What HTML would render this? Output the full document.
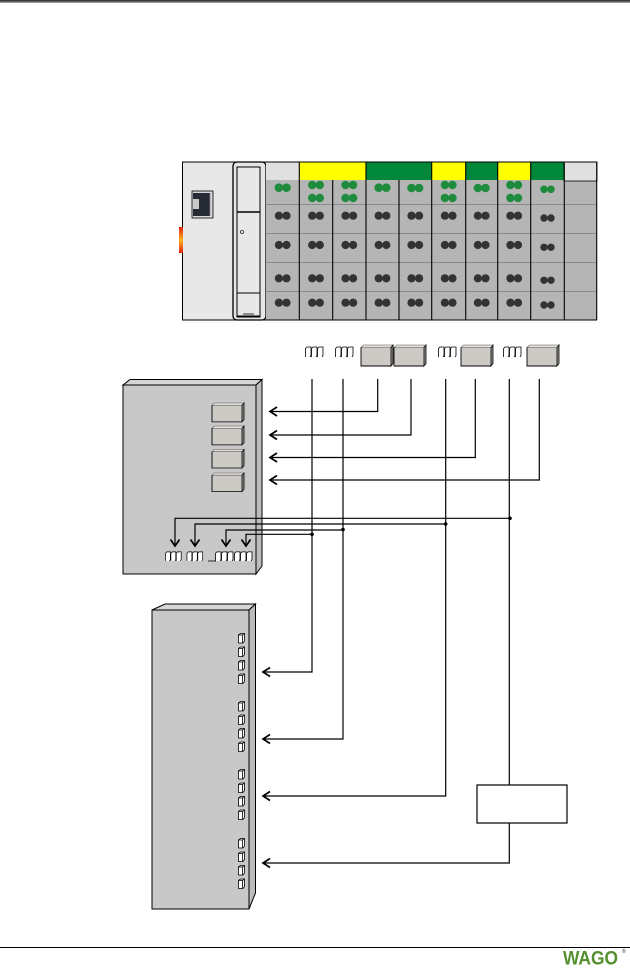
<!DOCTYPE html>
<html><head><meta charset="utf-8">
<style>html,body{margin:0;padding:0;background:#fff}svg{display:block}</style>
</head><body>
<svg width="630" height="971" viewBox="0 0 630 971" xmlns="http://www.w3.org/2000/svg">
<defs>
<linearGradient id="red" x1="0" y1="0" x2="0" y2="1">
<stop offset="0" stop-color="#e01e10"/><stop offset="0.5" stop-color="#ffb41e"/><stop offset="1" stop-color="#e01e10"/>
</linearGradient>
<g id="bb">
 <rect x="0" y="2.5" width="30" height="18.5" fill="#cdcac6"/>
 <polygon points="0,2.5 2.5,0 32,0 30,2.5" fill="#e2e0dd" stroke="#555" stroke-width="0.6"/>
 <polygon points="30,2.5 32,0 32,18.5 30,21" fill="#9a9894" stroke="#000" stroke-width="0.8"/>
 <path d="M0,2.5 V21 H30" fill="none" stroke="#000" stroke-width="0.9"/>
</g>
<g id="sc" fill="#fff" stroke="#000" stroke-width="0.8">
 <path d="M0.5,11 V2.5 L2,1 H6 V9.5 L5,11"/>
 <path d="M6.5,11 V2.5 L8,1 H12 V9.5 L11,11"/>
 <path d="M12.5,11 V2.5 L14,1 H18 V9.5 L17,11"/>
</g>
<g id="lc" fill="#fff" stroke="#000" stroke-width="0.8">
 <path d="M0.5,10 V2 L2.5,0.5 H6.5 V8 L5,10 Z"/>
 <path d="M0.5,2 H4.5 L6.5,0.5 M4.5,2 V10"/>
</g>
</defs>

<!-- top header line -->
<rect x="0" y="0" width="630" height="2.5" fill="#333"/>
<line x1="0" y1="1.2" x2="630" y2="1.2" stroke="#999" stroke-width="0.5"/>

<!-- device left face -->
<rect x="182.5" y="162" width="84" height="158" fill="#e8e8e8" stroke="#000" stroke-width="1"/>
<rect x="179" y="227" width="4" height="26" fill="url(#red)"/>
<!-- RJ45 -->
<rect x="192" y="191" width="21" height="27" fill="#d8d8d8" stroke="#000" stroke-width="0.8"/>
<rect x="193" y="193" width="17" height="23" fill="#262a35"/>
<rect x="192.5" y="199" width="6.5" height="10" fill="#c8c8c8"/>
<line x1="210" y1="193" x2="210" y2="216" stroke="#888" stroke-width="0.8"/>
<!-- coupler -->
<rect x="233" y="162" width="33" height="158" rx="4" fill="#e6e6e6" stroke="#000" stroke-width="1.3"/>
<rect x="237" y="167" width="23" height="150" fill="#e8e8e8" stroke="#000" stroke-width="1"/>
<line x1="237" y1="212" x2="260" y2="212" stroke="#000" stroke-width="1.6"/>
<rect x="237" y="293" width="23" height="23" fill="none" stroke="#000" stroke-width="1"/>
<line x1="243" y1="314" x2="254" y2="314" stroke="#000" stroke-width="0.8"/>
<circle cx="242" cy="232" r="1.6" fill="none" stroke="#333" stroke-width="0.8"/>

<!-- modules -->
<rect x="266" y="180" width="331" height="140" fill="#b5b5b5"/>
<rect x="266" y="162" width="33" height="18" fill="#e0e0e0"/>
<rect x="299" y="162" width="67" height="18" fill="#ffff00"/>
<rect x="366" y="162" width="66" height="18" fill="#00873a"/>
<rect x="432" y="162" width="34" height="18" fill="#ffff00"/>
<rect x="466" y="162" width="32" height="18" fill="#00873a"/>
<rect x="498" y="162" width="33" height="18" fill="#ffff00"/>
<rect x="531" y="162" width="33" height="18" fill="#00873a"/>
<rect x="564" y="162" width="33" height="19" fill="#e0e0e0" stroke="#000" stroke-width="0.8"/>
<g stroke="#8a8a8a" stroke-width="1">
<line x1="266" y1="204.5" x2="597" y2="204.5"/>
<line x1="266" y1="233.5" x2="597" y2="233.5"/>
<line x1="266" y1="262.5" x2="597" y2="262.5"/>
<line x1="266" y1="291.5" x2="597" y2="291.5"/>
</g>
<g stroke="#000" stroke-width="1.1">
<line x1="299.3" y1="162" x2="299.3" y2="320"/>
<line x1="332.7" y1="180" x2="332.7" y2="320"/>
<line x1="366" y1="162" x2="366" y2="320"/>
<line x1="399" y1="180" x2="399" y2="320"/>
<line x1="431.7" y1="162" x2="431.7" y2="320"/>
<line x1="465.7" y1="162" x2="465.7" y2="320"/>
<line x1="497.7" y1="162" x2="497.7" y2="320"/>
<line x1="530.7" y1="162" x2="530.7" y2="320"/>
<line x1="564.3" y1="162" x2="564.3" y2="320"/>
<line x1="596.7" y1="162" x2="596.7" y2="320"/>
<line x1="266" y1="162" x2="597" y2="162"/>
<line x1="182.5" y1="320" x2="597" y2="320"/>
</g>

<!-- green dots -->
<g fill="#1e8c3c">
<circle cx="278.9" cy="187.7" r="4.3"/><circle cx="286.5" cy="187.7" r="4.3"/>
<circle cx="378.7" cy="187.7" r="4.3"/><circle cx="386.3" cy="187.7" r="4.3"/>
<circle cx="411.5" cy="188" r="4.3"/><circle cx="419.1" cy="188" r="4.3"/>
<circle cx="477.9" cy="188" r="4.3"/><circle cx="485.5" cy="188" r="4.3"/>
<circle cx="544" cy="189.3" r="3.8"/><circle cx="551" cy="189.3" r="3.8"/>
<circle cx="312.2" cy="185" r="4.2"/><circle cx="319.8" cy="185" r="4.2"/>
<circle cx="312.2" cy="198" r="4.2"/><circle cx="319.8" cy="198" r="4.2"/>
<circle cx="345.5" cy="185" r="4.2"/><circle cx="353.1" cy="185" r="4.2"/>
<circle cx="345.5" cy="198" r="4.2"/><circle cx="353.1" cy="198" r="4.2"/>
<circle cx="444.9" cy="185" r="4.2"/><circle cx="452.5" cy="185" r="4.2"/>
<circle cx="444.9" cy="198" r="4.2"/><circle cx="452.5" cy="198" r="4.2"/>
<circle cx="510.4" cy="185" r="4.2"/><circle cx="518" cy="185" r="4.2"/>
<circle cx="510.4" cy="198" r="4.2"/><circle cx="518" cy="198" r="4.2"/>
</g>
<!-- dark dots -->
<g fill="#333">
<g id="dcol">
<circle cx="278.9" cy="215.7" r="4.1"/><circle cx="286.5" cy="215.7" r="4.1"/>
<circle cx="278.9" cy="245" r="4.1"/><circle cx="286.5" cy="245" r="4.1"/>
<circle cx="278.9" cy="278.3" r="4.1"/><circle cx="286.5" cy="278.3" r="4.1"/>
<circle cx="278.9" cy="302.7" r="4.1"/><circle cx="286.5" cy="302.7" r="4.1"/>
</g>
<use href="#dcol" transform="translate(33.3,0)"/>
<use href="#dcol" transform="translate(66.6,0)"/>
<use href="#dcol" transform="translate(99.8,0)"/>
<use href="#dcol" transform="translate(132.6,0)"/>
<use href="#dcol" transform="translate(166,0)"/>
<use href="#dcol" transform="translate(199,0)"/>
<use href="#dcol" transform="translate(231.5,0)"/>
<circle cx="544" cy="218" r="3.7"/><circle cx="551" cy="218" r="3.7"/>
<circle cx="544" cy="247.3" r="3.7"/><circle cx="551" cy="247.3" r="3.7"/>
<circle cx="544" cy="280.3" r="3.7"/><circle cx="551" cy="280.3" r="3.7"/>
<circle cx="544" cy="305" r="3.7"/><circle cx="551" cy="305" r="3.7"/>
</g>

<!-- terminal row -->
<use href="#sc" transform="translate(305,346)"/>
<use href="#sc" transform="translate(335,346)"/>
<use href="#bb" transform="translate(361,345)"/>
<use href="#bb" transform="translate(394,345)"/>
<use href="#sc" transform="translate(438,346)"/>
<use href="#bb" transform="translate(461,345)"/>
<use href="#sc" transform="translate(503,346)"/>
<use href="#bb" transform="translate(527,345)"/>

<!-- left box -->
<polygon points="123,385 130,379.5 262,379.5 256,385" fill="#d6d6d6" stroke="#000" stroke-width="1"/>
<polygon points="256,385 262,379.5 262,566 256,574" fill="#bcbcbc" stroke="#000" stroke-width="1"/>
<rect x="123" y="385" width="133" height="189" fill="#c8c8c8" stroke="#000" stroke-width="1"/>
<use href="#bb" transform="translate(212,403) scale(1,0.9)"/>
<use href="#bb" transform="translate(212,426) scale(1,0.9)"/>
<use href="#bb" transform="translate(212,449.5) scale(1,0.88)"/>
<use href="#bb" transform="translate(212,473) scale(1,0.88)"/>
<use href="#sc" transform="translate(165,551) scale(0.9,0.9)"/>
<use href="#sc" transform="translate(186.5,551) scale(0.9,0.9)"/>
<use href="#sc" transform="translate(215,551) scale(1,0.9)"/>
<use href="#sc" transform="translate(234,551) scale(1,0.9)"/>
<line x1="208" y1="561" x2="216" y2="561" stroke="#000" stroke-width="0.8"/>

<!-- lower box -->
<polygon points="152,610 165,604 255.5,604 249,610" fill="#d6d6d6" stroke="#000" stroke-width="1"/>
<polygon points="249,610 255.5,604 255.5,893 249,909" fill="#bcbcbc" stroke="#000" stroke-width="1"/>
<rect x="152" y="610" width="97" height="299" fill="#c8c8c8" stroke="#000" stroke-width="1"/>
<g>
<use href="#lc" transform="translate(238,633)"/>
<use href="#lc" transform="translate(238,646.5)"/>
<use href="#lc" transform="translate(238,660)"/>
<use href="#lc" transform="translate(238,673.5)"/>
<use href="#lc" transform="translate(238,701)"/>
<use href="#lc" transform="translate(238,714.5)"/>
<use href="#lc" transform="translate(238,728)"/>
<use href="#lc" transform="translate(238,741.5)"/>
<use href="#lc" transform="translate(238,769)"/>
<use href="#lc" transform="translate(238,782.5)"/>
<use href="#lc" transform="translate(238,796)"/>
<use href="#lc" transform="translate(238,809.5)"/>
<use href="#lc" transform="translate(238,838)"/>
<use href="#lc" transform="translate(238,851.5)"/>
<use href="#lc" transform="translate(238,865)"/>
<use href="#lc" transform="translate(238,878.5)"/>
</g>

<!-- empty box -->
<rect x="477" y="785" width="90" height="38" fill="#fff" stroke="#000" stroke-width="1.2"/>

<!-- connector lines -->
<g fill="none" stroke="#000" stroke-width="1.2">
<path d="M312,379 V672 H264"/>
<path d="M343,379 V739 H264"/>
<path d="M377.7,379 V411.5 H271"/>
<path d="M411,379 V435 H271"/>
<path d="M445.7,379 V796 H264"/>
<path d="M475.3,379 V457.5 H271"/>
<path d="M509.3,379 V785"/>
<path d="M509.3,823 V863 H264"/>
<path d="M539.3,379 V480 H271"/>
<path d="M510,518.3 H175 V545"/>
<path d="M445.7,524 H195 V545"/>
<path d="M343,530 H226 V545"/>
<path d="M312,534.3 H246 V545"/>
</g>
<!-- arrowheads -->
<g fill="none" stroke="#000" stroke-width="1.7">
<path d="M277,407 L270,411.5 L277,416"/>
<path d="M277,430.5 L270,435 L277,439.5"/>
<path d="M277,453 L270,457.5 L277,462"/>
<path d="M277,475.5 L270,480 L277,484.5"/>
<path d="M270,667.5 L263,672 L270,676.5"/>
<path d="M270,734.5 L263,739 L270,743.5"/>
<path d="M270,791.5 L263,796 L270,800.5"/>
<path d="M270,858.5 L263,863 L270,867.5"/>
<path d="M170.5,539.5 L175,546 L179.5,539.5"/>
<path d="M190.5,539.5 L195,546 L199.5,539.5"/>
<path d="M221.5,539.5 L226,546 L230.5,539.5"/>
<path d="M241.5,539.5 L246,546 L250.5,539.5"/>
</g>
<!-- junction dots -->
<g fill="#000">
<circle cx="510" cy="518.3" r="1.8"/>
<circle cx="445.7" cy="524" r="1.8"/>
<circle cx="343" cy="529.5" r="1.8"/>
<circle cx="312" cy="534.3" r="1.8"/>
</g>

<!-- footer -->
<line x1="0" y1="947.5" x2="630" y2="947.5" stroke="#000" stroke-width="1"/>
<text x="563" y="964.5" font-family="'Liberation Sans', sans-serif" font-weight="bold" font-size="19" fill="#55902e" textLength="55" lengthAdjust="spacingAndGlyphs">WAGO</text>
<text x="622" y="953" font-family="'Liberation Sans', sans-serif" font-size="5" fill="#333">®</text>
</svg>
</body></html>
